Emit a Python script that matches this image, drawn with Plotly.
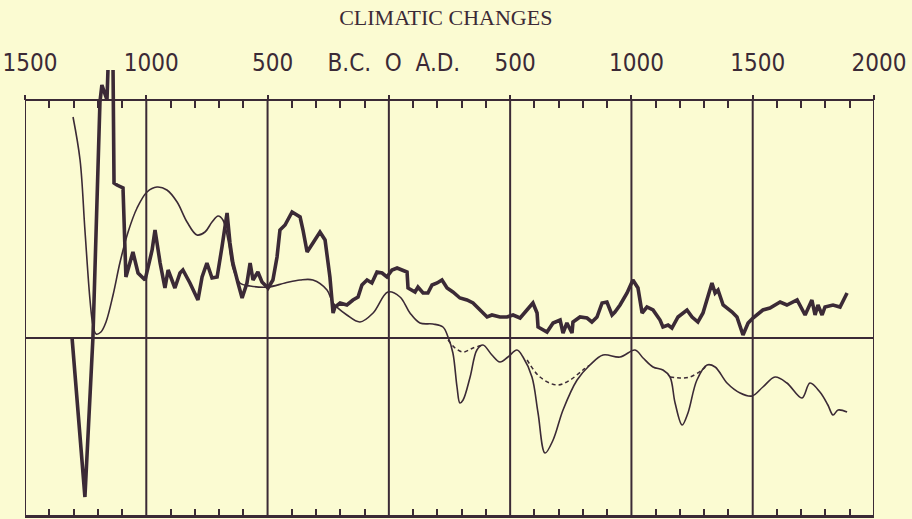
import plotly.graph_objects as go

# Years (negative = B.C.) and relative index values
thick_years = [-1306, -1253, -1220, -1191, -1183, -1162, -1158, None, -1137, -1133, -1121, -1096,
               -1084, -1055, -1034, -1005, -976, -964, -943, -923, -910, -882, -861, -849, -820,
               -787, -770, -750, -729, -708, -688, -667, -655, -643, -622, -605, -585, -572, -560,
               -540, -523, -498, -478, -461, -449, -428, -399, -366, -354, -337, -313, -284, -263,
               -243, -230, -222, -201, -173, -148, -127, -111, -90, -70, -49, -28, -8, 13, 34, 54,
               75, 79, 108, 120, 141, 161, 178, 199, 219, 240, 264, 293, 322, 347, 376, 405, 425,
               458, 487, 512, 541, 570, 594, 611, 615, 652, 677, 706, 718, 734, 755, 759, 788, 817,
               837, 858, 879, 899, 920, 932, 953, 982, 1006, 1027, 1044, 1064, 1089, 1118, 1130,
               1151, 1167, 1192, 1229, 1250, 1274, 1295, 1332, 1345, 1357, 1378, 1415, 1435, 1456,
               1460, 1481, 1501, 1542, 1571, 1613, 1641, 1683, 1716, 1744, 1757, 1769, 1786, 1798,
               1831, 1860, 1889]
thick_vals = [0, -31.8, 0, 47.2, 50.6, 47.6, 53.6, None, 53.6, 31, 30.6, 30,
              12.2, 17.2, 13, 11.6, 17.6, 21.6, 15, 10, 13.6, 10, 13, 13.6, 11,
              7.6, 12.2, 15, 12, 12.2, 18.2, 25, 19, 15, 11, 8, 11, 15, 11.6,
              13.2, 11.2, 10, 11.6, 16.2, 21.6, 22.6, 25.2, 24.2, 21.6, 17.2, 19, 21.2, 19.6,
              12.2, 5, 6.2, 7, 6.6, 7.6, 8.2, 10.6, 11.6, 11, 13.2, 13, 12.2, 13.6, 14, 13.6,
              13.2, 10, 9.2, 10.2, 9, 9, 10.6, 11, 11.6, 10, 9.2, 8, 7.6, 7, 5.6, 4.2, 4.6,
              4.2, 4.2, 4.6, 4, 5.6, 7, 5, 2.2, 1.2, 3, 3.6, 1, 3, 1, 3.2, 4.2, 4,
              3.2, 4.2, 7, 7.2, 4.6, 5.2, 6.6, 9, 11.6, 10, 5, 6.2, 5.6, 3.6, 2.2,
              2.6, 2, 4.2, 5.6, 4.2, 3.2, 5, 11, 9, 9.6, 6.6, 5.2, 4.2, 1.2,
              0.6, 3, 4, 5.6, 6, 7.2, 6.6, 7.6, 4.6, 7.6, 4.6, 6.6, 4.6, 6.2,
              6.6, 6.2, 9]

thin_years = [-1302, -1273, -1253, -1232, -1220, -1207, -1187, -1166, -1137, -1108, -1075, -1038,
              -997, -956, -915, -873, -832, -791, -758, -729, -704, -684, -663, -643, -614, -572,
              -498, -428, -366, -313, -255, -230, -173, -119, -65, -4, 46, 87, 128, 182, 223, 244,
              264, 281, 293, 306, 335, 363, 388, 425, 458, 491, 528, 553, 590, 615, 644, 677, 718,
              776, 829, 883, 953, 1015, 1048, 1089, 1130, 1159, 1180, 1209, 1233, 1270, 1312,
              1345, 1394, 1448, 1497, 1542, 1592, 1641, 1703, 1736, 1777, 1810, 1831, 1852, 1889]
thin_vals = [44.2, 35.6, 21.6, 7.6, 2.6, 0.8, 1.2, 3.2, 8.6, 15.2, 21.2, 26,
             29.2, 30.2, 29.6, 27.2, 23.2, 20.6, 21.2, 23.2, 24.4, 23.6, 19.6, 14, 11, 10.4,
             10.2, 11, 11.6, 11.6, 9.6, 7, 4.6, 3.2, 5, 9.2, 8.2, 5, 3, 2.8, 2.2, 0.2,
             -3, -9.8, -13, -12.4, -7.8, -2.4, -1.4, -3.4, -4.8, -3.8, -2.4, -3.8, -7.8, -15, -23, -20.4, -14.4,
             -8.4, -5.4, -3.4, -3.8, -2.4, -4, -5.8, -6.4, -7.8, -13, -17.4, -15, -8.4, -5.4,
             -5.8, -9, -11, -11.6, -9.8, -7.8, -9, -12, -9, -10.8, -13.4, -15.4, -14.4, -14.8]

dash_years = [244, 273, 306, 347, 388, None, 570, 623, 693, 747, 800, 829, None, 1159, 1200, 1241, 1291, 1312]
dash_vals = [-0.4, -2, -2.8, -2, -1.4, None, -4.4, -7.8, -9.4, -8.4, -6.4, -5.4, None, -7.8, -8, -7.8, -6.4, -5.4]

tick_years = [-1500, -1000, -500, 0, 500, 1000, 1500, 2000]
tick_labels = ["1500", "1000", "500", "B.C.  O  A.D.", "500", "1000", "1500", "2000"]
minor_years = [y for y in range(-1400, 2000, 100) if y % 500 != 0]

X_MIN, X_MAX = -1500, 2000          # frame extent in years
Y_MIN, Y_TOP, Y_MAX = -35.6, 47.6, 53.6  # frame bottom, frame top, headroom for the spike

INK = "#3b2a36"
PAPER = "#fbfbd2"
LABEL_FONT = "DejaVu Sans Condensed, Liberation Sans Narrow, Roboto, sans-serif"

fig = go.Figure()
fig.add_trace(go.Scatter(x=thin_years, y=thin_vals, mode="lines",
                         line=dict(color=INK, width=1.6, shape="spline", smoothing=1.0),
                         hoverinfo="skip"))
fig.add_trace(go.Scatter(x=dash_years, y=dash_vals, mode="lines", connectgaps=False,
                         line=dict(color=INK, width=1.5, dash="4px,3px", shape="spline"),
                         hoverinfo="skip"))
fig.add_trace(go.Scatter(x=thick_years, y=thick_vals, mode="lines", connectgaps=False,
                         line=dict(color=INK, width=3.6), hoverinfo="skip"))
# invisible trace to activate the top axis
fig.add_trace(go.Scatter(x=[X_MIN, X_MAX], y=[0, 0], xaxis="x2", mode="lines",
                         line=dict(width=0), hoverinfo="skip", showlegend=False))

# frame and 500-year grid lines (top of frame sits below the plot top to leave headroom)
shapes = [dict(type="rect", xref="x", yref="y", x0=X_MIN, x1=X_MAX, y0=Y_MIN, y1=Y_TOP,
               line=dict(color=INK, width=2), layer="below")]
for yr in tick_years[1:-1]:
    shapes.append(dict(type="line", xref="x", yref="y", x0=yr, x1=yr, y0=Y_MIN, y1=Y_TOP,
                       line=dict(color=INK, width=2), layer="below"))

top_pos = (Y_TOP - Y_MIN) / (Y_MAX - Y_MIN)

fig.update_layout(
    width=912, height=519,
    paper_bgcolor=PAPER, plot_bgcolor=PAPER,
    margin=dict(l=25, r=38, t=70, b=3, autoexpand=False),
    showlegend=False,
    shapes=shapes,
    title=dict(text="CLIMATIC CHANGES", x=452 / 912, xref="paper", xanchor="center",
               y=1 - 17 / 519, yref="container", yanchor="middle",
               font=dict(family="Liberation Serif, DejaVu Serif, serif", size=22, color=INK)),
    xaxis=dict(range=[X_MIN, X_MAX], showgrid=False,
               tickmode="array", tickvals=tick_years, showticklabels=False, automargin=False,
               ticks="", showline=True, linecolor=INK, linewidth=2, zeroline=False,
               minor=dict(tickmode="array", tickvals=minor_years, ticks="inside",
                          ticklen=7, tickwidth=1.5, tickcolor=INK, showgrid=False)),
    xaxis2=dict(range=[X_MIN, X_MAX], overlaying="x", side="top", anchor="free",
                position=top_pos, showgrid=False,
                tickmode="array", tickvals=tick_years, ticktext=tick_labels,
                ticks="outside", ticklen=5, tickwidth=2, tickcolor=INK,
                ticklabelstandoff=14, ticklabelshift=5, ticklabeloverflow="allow",
                automargin=False,
                tickfont=dict(family=LABEL_FONT, size=24, color=INK),
                showline=False, zeroline=False,
                minor=dict(tickmode="array", tickvals=minor_years, ticks="inside",
                           ticklen=7, tickwidth=1.5, tickcolor=INK, showgrid=False)),
    yaxis=dict(range=[Y_MIN, Y_MAX], showgrid=False, showticklabels=False, ticks="",
               automargin=False, showline=False,
               zeroline=True, zerolinecolor=INK, zerolinewidth=2),
)

fig.write_html("out.html", config={"displayModeBar": False},
               post_script="document.body.style.margin='0';"
                           "document.body.style.background='" + PAPER + "';")
